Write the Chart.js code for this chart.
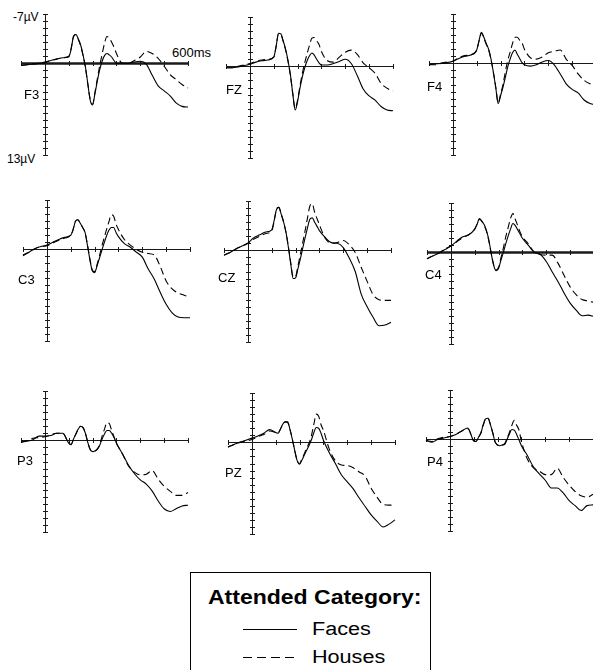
<!DOCTYPE html>
<html>
<head>
<meta charset="utf-8">
<script src="https://cdn.jsdelivr.net/npm/chart.js@4.4.1/dist/chart.umd.min.js"></script>
<style>
    body { margin: 0; width: 593px; height: 670px; overflow: hidden; background: #fff; position: relative;
           font-family: "Liberation Sans", Arial, sans-serif; color: #000; }
    canvas { position: absolute; }
    .lbl { position: absolute; font-size: 13px; line-height: 13px; white-space: nowrap; }
    .unit { position: absolute; font-size: 12px; line-height: 12px; white-space: nowrap; }
    #legend { position: absolute; left: 190px; top: 572px; width: 241px; height: 110px; border: 1px solid #000; box-sizing: border-box; }
    #legend .t { position: absolute; white-space: nowrap; transform-origin: 0 0; }
    #legend .ln { position: absolute; left: 52px; width: 54px; height: 1px; }
</style>
</head>
<body>

<div class="unit" style="left:13px;top:11px;">-7µV</div>
<div class="unit" style="left:7px;top:153px;">13µV</div>
<div class="lbl" style="left:172px;top:46px;">600ms</div>

<div id="legend">
    <div class="t" style="left:17px;top:14px;font-size:20px;line-height:20px;font-weight:bold;transform:scaleX(1.15);">Attended Category:</div>
    <div class="ln" style="top:56px;background:#000;"></div>
    <div class="t" style="left:121px;top:47px;font-size:18px;line-height:18px;transform:scaleX(1.2);">Faces</div>
    <div class="ln" style="top:84px;background:repeating-linear-gradient(90deg,#000 0 9px,transparent 9px 14px);"></div>
    <div class="t" style="left:121px;top:75px;font-size:18px;line-height:18px;transform:scaleX(1.2);">Houses</div>
</div>

<script>
// time points (ms) shared by every trace
var times = [-100,-75,-50,-25,0,25,50,75,100,110,120,130,140,150,160,170,180,190,200,210,220,230,240,250,260,270,280,290,300,325,350,375,400,425,450,475,500,525,550,575,600];

// amplitudes in µV (negative is plotted up)
var f3Faces  = [0.3,0.2,0.1,0,-0.1,-0.4,-0.6,-0.8,-0.9, -2.0,-3.8,-4.1,-3.5,-2.6,-1.2,0.5,2.9,5.2,5.9,4.3,2.5,0.9,-0.3,-1.1,-1.4,-1.2,-0.9,-0.4,0, 0,0,-0.2,-0.3,0.1,1.7,3.2,3.9,4.6,5.6,6.1,6.2];
var f3Houses = [0.3,0.2,0.1,0,-0.2,-0.4,-0.6,-0.8,-1.0, -2.1,-3.8,-4.1,-3.4,-2.5,-1.1,0.6,2.9,5.1,5.8,4.1,2.2,0.3,-1.3,-2.8,-3.8,-3.6,-3.0,-2.3,-1.4, 0,0,-0.4,-0.9,-1.7,-1.4,-0.7,0.4,1.6,2.3,3.0,3.5];
var fzFaces  = [0.2,0.2,0.1,-0.1,-0.3,-0.6,-0.8,-0.9,-1.3, -2.8,-4.7,-4.6,-3.6,-2.4,-0.8,1.2,3.9,6.2,5.0,3.1,1.5,0.2,-0.8,-1.5,-1.9,-1.6,-1.0,-0.5,-0.2, -0.2,-0.4,-0.7,-1.0,-0.4,1.3,3.2,4.2,4.8,5.7,6.2,6.3];
var fzHouses = [0.2,0.2,0,-0.2,-0.4,-0.7,-0.9,-1.0,-1.3, -2.8,-4.6,-4.5,-3.5,-2.3,-0.7,1.3,3.9,6.0,4.8,2.8,1.0,-0.5,-1.8,-3.0,-4.0,-4.1,-3.6,-3.1,-2.1, -0.8,-0.6,-1.3,-2.0,-2.3,-1.7,-0.5,0.2,1.0,2.4,3.1,3.5];
var f4Faces  = [0.2,0.1,0,-0.1,-0.3,-0.7,-1.0,-1.2,-1.9, -3.3,-4.4,-3.7,-2.8,-2.0,-0.6,1.3,3.5,5.7,4.6,3.4,2.0,0.5,-0.6,-1.5,-1.9,-1.3,-0.7,-0.1,0.2, 0.4,0.2,-0.2,-0.4,0.2,1.5,2.9,3.7,4.2,5.2,5.7,5.9];
var f4Houses = [0.2,0.2,0,-0.2,-0.3,-0.8,-1.1,-1.2,-1.9, -3.2,-4.3,-3.6,-2.7,-1.9,-0.5,1.3,3.4,5.6,4.4,3.0,1.2,-0.4,-1.6,-2.8,-3.7,-3.7,-3.3,-2.9,-2.0, -0.8,-0.6,-0.9,-1.5,-1.7,-1.9,-0.6,0.3,1.5,2.4,2.9,3.1];
var c3Faces  = [0.8,0.4,-0.1,-0.4,-0.6,-1.0,-1.4,-1.7,-2.0, -2.8,-4.0,-4.2,-3.7,-3.1,-2.4,-0.6,1.4,3.0,3.3,2.4,1.3,0.2,-0.9,-1.9,-2.7,-3.1,-3.1,-2.4,-1.8, -0.8,-0.3,0.4,1.1,2.8,4.2,6.1,7.8,9.0,9.6,9.7,9.7];
var c3Houses = [0.9,0.4,-0.1,-0.4,-0.5,-0.9,-1.3,-1.6,-2.0, -2.8,-4.0,-4.2,-3.7,-3.1,-2.4,-0.7,1.3,2.9,3.2,2.2,1.0,-0.4,-1.6,-2.8,-3.9,-4.9,-4.7,-3.6,-2.8, -1.4,-0.6,0,0.4,0.6,0.8,2.4,4.5,5.6,6.2,6.5,6.8];
var czFaces  = [0.7,0.3,-0.2,-0.6,-1.0,-1.8,-2.2,-2.6,-2.9, -4.2,-5.8,-6.1,-5.1,-4.0,-2.5,-0.4,2.0,4.0,3.9,2.6,1.2,-0.3,-1.8,-3.2,-4.4,-4.6,-4.0,-3.4,-2.8, -1.8,-1.1,-1.0,-0.4,1.1,3.0,6.2,8.0,9.5,10.7,10.6,10.2];
var czHouses = [0.7,0.3,-0.2,-0.6,-1.0,-1.6,-2.0,-2.4,-2.7, -4.1,-5.8,-6.1,-5.1,-4.0,-2.5,-0.5,1.8,3.8,3.7,2.2,0.6,-1.1,-2.8,-4.6,-6.3,-6.6,-5.4,-4.5,-3.6, -1.7,-1.0,-1.1,-1.4,-0.8,0.3,2.4,4.4,6.3,7.0,7.1,7.1];
var c4Faces  = [0.9,0.5,0.1,-0.4,-0.9,-1.6,-2.2,-2.5,-3.3, -4.0,-4.8,-4.4,-3.9,-3.0,-1.6,0.3,1.9,2.6,2.3,1.1,0,-1.2,-2.3,-3.3,-4.1,-3.8,-3.2,-2.6,-2.0, -1.0,0,0.3,1.3,2.8,4.2,5.8,7.2,8.2,9.0,8.9,9.1];
var c4Houses = [0.9,0.5,0.1,-0.5,-0.9,-1.5,-2.1,-2.5,-3.3, -4.0,-4.7,-4.4,-3.8,-2.9,-1.5,0.3,1.8,2.5,2.1,0.8,-0.6,-2.2,-3.5,-4.8,-5.5,-4.7,-3.8,-2.9,-2.2, -1.2,0,0.3,0.4,0.4,1.6,3.3,4.9,6.0,6.7,6.9,7.1];
var p3Faces  = [0.2,0.1,-0.1,-0.6,-0.6,-0.7,-1.0,-1.0,0.4, 0.6,-0.2,-0.9,-1.6,-2.0,-1.8,-1.0,0.3,1.3,1.6,1.5,1.3,0.7,-0.2,-0.9,-1.4,-1.4,-1.0,-0.4,0.4, 1.9,3.5,4.7,5.6,6.2,7.2,8.6,9.7,10.1,9.7,9.3,9.2];
var p3Houses = [0.3,0.1,-0.3,-0.4,-0.5,-0.8,-1.0,-1.0,0.4, 0.6,-0.2,-0.9,-1.6,-2.0,-1.8,-1.0,0.3,1.3,1.6,1.5,1.2,0.6,-0.6,-1.6,-2.5,-2.4,-1.4,-0.5,0.4, 1.9,3.6,4.5,4.9,4.8,4.3,5.5,6.5,7.2,7.8,7.8,7.4];
var pzFaces  = [0.65,0.3,0,-0.3,-0.6,-0.9,-1.3,-1.8,-1.4, -1.3,-1.9,-2.6,-2.9,-2.9,-1.8,-0.4,1.2,2.6,3.1,2.5,1.8,1.1,0.4,-0.4,-1.4,-2.1,-2.0,-1.3,-0.3, 1.5,3.0,4.6,5.6,6.6,7.9,9.1,10.3,11.2,12.0,11.6,11.0];
var pzHouses = [0.7,0.3,0,-0.2,-0.4,-0.8,-1.1,-1.6,-1.4, -1.3,-1.9,-2.6,-2.9,-2.8,-1.8,-0.4,1.2,2.6,3.0,2.3,1.6,0.8,0.1,-1.0,-2.6,-4.0,-3.7,-2.5,-1.7, 1.0,2.6,3.2,3.3,3.6,4.2,4.8,6.5,7.8,8.8,8.9,8.9];
var p4Faces  = [0.1,0.4,0,-0.2,-0.4,-0.7,-1.2,-1.6,0.2, 0.3,-0.3,-0.9,-2.1,-2.9,-3.0,-2.1,-0.9,0.4,0.8,0.9,0.8,0.7,0,-0.8,-1.4,-1.3,-0.7,0.1,0.9, 2.3,3.9,4.9,5.8,6.9,6.9,7.6,8.7,9.4,10.1,9.4,9.3];
var p4Houses = [0.2,0.3,-0.1,-0.3,-0.4,-0.7,-1.2,-1.5,0.2, 0.3,-0.3,-0.9,-2.0,-2.9,-3.0,-2.1,-0.9,0.4,0.8,0.9,0.8,0.6,-0.2,-1.0,-2.0,-2.7,-2.0,-1.3,0.3, 2.8,4.0,4.5,5.0,5.0,4.1,5.4,6.5,7.4,8.0,8.2,7.8];

// axis ticks
var xTicks = [-100,0,100,200,300,400,500,600];
var yTicks = [-7,-6,-5,-4,-3,-2,-1,0,1,2,3,4,5,6,7,8,9,10,11,12,13];

// one entry per electrode: x0 = pixel of 0 ms, y0 = pixel of 0 µV
var panels = [
    { name: 'F3', faces: f3Faces, houses: f3Houses, x0: 45,  y0: 63,  bold: true,  lx: 24,  ly: 94 },
    { name: 'FZ', faces: fzFaces, houses: fzHouses, x0: 250, y0: 66,  bold: false, lx: 226, ly: 89 },
    { name: 'F4', faces: f4Faces, houses: f4Houses, x0: 453, y0: 63,  bold: false, lx: 427, ly: 86 },
    { name: 'C3', faces: c3Faces, houses: c3Houses, x0: 47,  y0: 249, bold: false, lx: 18,  ly: 279 },
    { name: 'CZ', faces: czFaces, houses: czHouses, x0: 248, y0: 250, bold: false, lx: 218, ly: 277 },
    { name: 'C4', faces: c4Faces, houses: c4Houses, x0: 451, y0: 252, bold: true,  lx: 425, ly: 274 },
    { name: 'P3', faces: p3Faces, houses: p3Houses, x0: 45,  y0: 440, bold: false, lx: 17,  ly: 460 },
    { name: 'PZ', faces: pzFaces, houses: pzHouses, x0: 252, y0: 442, bold: false, lx: 225, ly: 472 },
    { name: 'P4', faces: p4Faces, houses: p4Houses, x0: 450, y0: 439, bold: false, lx: 427, ly: 461 }
];

var PAD = 12, W = 167, H = 141;
var msPx = W / 700, uvPx = H / 20;

// draws the cross-shaped axes through 0 ms / 0 µV
var erpAxes = {
    id: 'erpAxes',
    beforeDatasetsDraw: function (chart, args, opts) {
        var c = chart.ctx, xs = chart.scales.x, ys = chart.scales.y;
        var ax = Math.round(xs.getPixelForValue(0)) + 0.5;
        var ay = Math.round(ys.getPixelForValue(0)) + 0.5;
        c.save();
        c.strokeStyle = '#1a1a1a';
        c.lineWidth = 1;
        c.beginPath();
        c.moveTo(ax, ys.getPixelForValue(-7));
        c.lineTo(ax, ys.getPixelForValue(13));
        yTicks.forEach(function (v) {
            var y = Math.round(ys.getPixelForValue(v)) + 0.5;
            c.moveTo(ax - 2.5, y);
            c.lineTo(ax + 2.5, y);
        });
        xTicks.forEach(function (t) {
            var x = Math.round(xs.getPixelForValue(t)) + 0.5;
            c.moveTo(x, ay - 2.5);
            c.lineTo(x, ay + 2.5);
        });
        c.stroke();
        c.lineWidth = opts.bold ? 2.5 : 1;
        c.beginPath();
        c.moveTo(xs.getPixelForValue(-100), ay);
        c.lineTo(xs.getPixelForValue(600), ay);
        c.stroke();
        c.restore();
    }
};

function pts(vals) {
    return times.map(function (t, i) { return { x: t, y: vals[i] }; });
}

function drawPanel(p) {
    var cv = document.createElement('canvas');
    cv.width = W + 2 * PAD;
    cv.height = H + 2 * PAD;
    cv.style.left = (p.x0 - 100 * msPx - PAD) + 'px';
    cv.style.top = (p.y0 - 7 * uvPx - PAD) + 'px';
    document.body.appendChild(cv);

    var lbl = document.createElement('div');
    lbl.className = 'lbl';
    lbl.textContent = p.name;
    lbl.style.left = p.lx + 'px';
    lbl.style.top = (p.ly - 6) + 'px';
    document.body.appendChild(lbl);

    new Chart(cv.getContext('2d'), {
        type: 'line',
        data: {
            datasets: [{
                label: 'Faces',
                data: pts(p.faces),
                borderColor: '#000',
                borderWidth: 1.1,
                pointRadius: 0,
                cubicInterpolationMode: 'monotone',
                clip: false
            }, {
                label: 'Houses',
                data: pts(p.houses),
                borderColor: '#000',
                borderWidth: 1.1,
                borderDash: [7, 4],
                pointRadius: 0,
                cubicInterpolationMode: 'monotone',
                clip: false
            }]
        },
        options: {
            responsive: false,
            animation: false,
            events: [],
            layout: { padding: PAD },
            plugins: { legend: { display: false }, tooltip: { enabled: false }, erpAxes: { bold: p.bold } },
            scales: {
                x: { type: 'linear', min: -100, max: 600, display: false },
                y: { min: -7, max: 13, reverse: true, display: false }
            }
        },
        plugins: [erpAxes]
    });
}

panels.forEach(drawPanel);
</script>
</body>
</html>
